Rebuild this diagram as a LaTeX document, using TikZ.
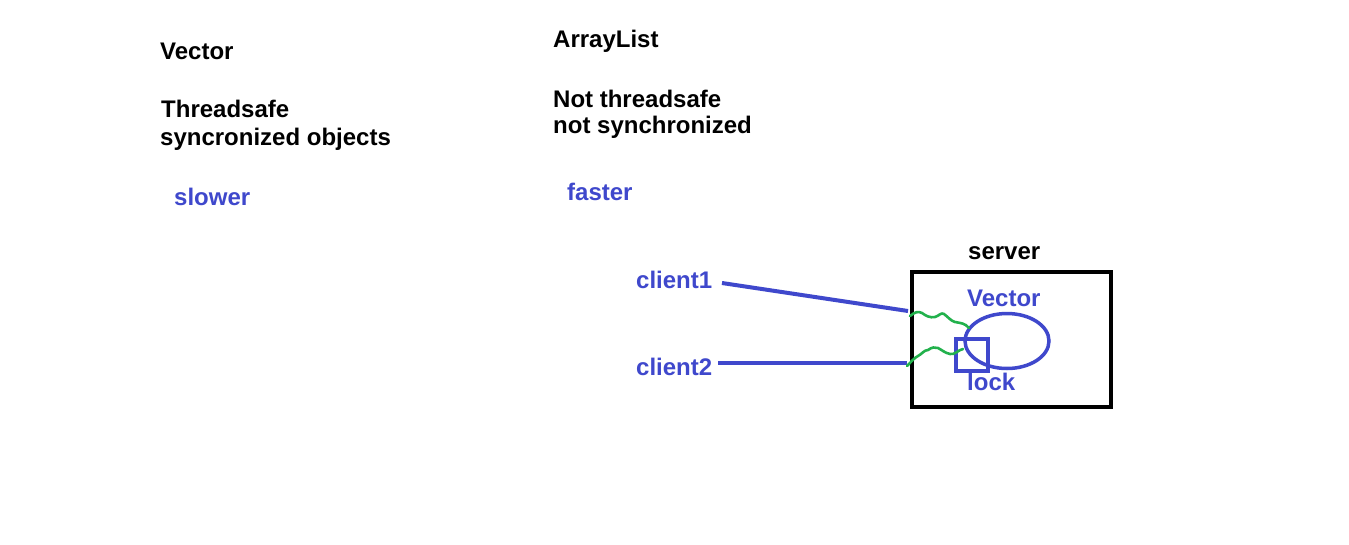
\documentclass[tikz,border=0pt]{standalone}
\usepackage{fontspec}
\setmainfont{Liberation Sans}
\usetikzlibrary{shapes.geometric}
\definecolor{pblue}{RGB}{63,72,204}
\definecolor{pgreen}{RGB}{34,177,76}
\begin{document}
\begin{tikzpicture}[x=1pt,y=-1pt,
  lbl/.style={anchor=base west,inner sep=0pt,font=\fontsize{24}{28}\selectfont\bfseries},
  bl/.style={lbl,text=pblue},
  wire/.style={draw=pblue,line width=4pt},
  wave/.style={draw=pgreen,line width=2.6pt,line cap=round,line join=round}]
\useasboundingbox[fill=white] (0,0) rectangle (1349,544);
% left column
\node[lbl] (vec) at (160,59) {Vector};
\node[lbl] (ts) at (161,117) {Threadsafe};
\node[lbl] (sync) at (160,145) {syncronized objects};
\node[bl] (slow) at (174,205) {slower};
% middle column
\node[lbl] (al) at (553,47) {ArrayList};
\node[lbl] (nts) at (553,107) {Not threadsafe};
\node[lbl] (nsync) at (553,133) {not synchronized};
\node[bl] (fast) at (567,200) {faster};
% server
\node[lbl] (srvlbl) at (968,259) {server};
\draw[line width=4pt] (912,272) rectangle (1111,407);
\node[bl] (vlbl) at (967,306) {Vector};
\node[draw=pblue,line width=3.5pt,ellipse,minimum width=84pt,minimum height=55pt,inner sep=0pt] (ell) at (1007,341) {};
\node[draw=pblue,line width=3.5pt,rectangle,minimum size=32pt,inner sep=0pt] (lock) at (972,355) {};
\node[bl] (locklbl) at (967,390) {lock};
% clients
\node[bl] (c1) at (636,288) {client1};
\node[bl] (c2) at (636,375) {client2};
\coordinate (c1s) at (722,283);
\coordinate (c1e) at (908,311);
\coordinate (c2s) at (718,363);
\coordinate (c2e) at (907,363);
\draw[wire] (c1s) -- (c1e);
\draw[wire] (c2s) -- (c2e);
% green threads
\draw[wave] (910,316) .. controls (915,312) and (918,311) .. (922,313)
  .. controls (926,316) and (930,318) .. (935,317)
  .. controls (939,316) and (941,312) .. (944,314)
  .. controls (948,317) and (951,321) .. (955,322)
  .. controls (960,323) and (965,323) .. (969,328);
\draw[wave] (907,366) .. controls (911,362) and (914,358) .. (918,356)
  .. controls (922,354) and (924,350) .. (928,350)
  .. controls (932,347) and (935,347) .. (938,348)
  .. controls (942,350) and (945,353) .. (950,354)
  .. controls (955,355) and (958,350) .. (963,349);
\end{tikzpicture}
\end{document}
